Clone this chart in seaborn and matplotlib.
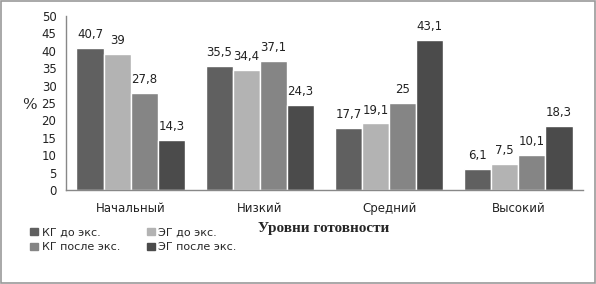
import matplotlib
matplotlib.use("Agg")
import matplotlib.pyplot as plt
import seaborn as sns
import pandas as pd
from matplotlib.patches import Rectangle

categories = ["Начальный", "Низкий", "Средний", "Высокий"]
series = ["КГ до экс.", "ЭГ до экс.", "КГ после экс.", "ЭГ после экс."]
kg_before = [40.7, 35.5, 17.7, 6.1]
eg_before = [39, 34.4, 19.1, 7.5]
kg_after = [27.8, 37.1, 25, 10.1]
eg_after = [14.3, 24.3, 43.1, 18.3]
colors = ["#606060", "#b3b3b3", "#858585", "#4b4b4b"]

values = [kg_before, eg_before, kg_after, eg_after]
rows = []
for s, vals in zip(series, values):
    for c, v in zip(categories, vals):
        rows.append({"cat": c, "series": s, "val": v})
df = pd.DataFrame(rows)

sns.set_style("white")
plt.rcParams["font.family"] = ["DejaVu Sans"]

fig = plt.figure(figsize=(5.96, 2.84), dpi=100)
ax = fig.add_axes([0.111, 0.331, 0.867, 0.613])
sns.barplot(data=df, x="cat", y="val", hue="series", hue_order=series,
            order=categories, palette=colors, width=0.84, saturation=1,
            ax=ax, legend=False, errorbar=None)

for cont in ax.containers:
    labels = [f"{v:g}".replace(".", ",") for v in cont.datavalues]
    ax.bar_label(cont, labels=labels, padding=5, fontsize=8.5, color="#222222")

ax.set_ylim(0, 50)
ax.set_yticks(range(0, 51, 5))
ax.set_xlim(-0.5, 3.5)
ax.tick_params(axis="both", length=0, labelsize=8.5, colors="#222222")
ax.tick_params(axis="x", pad=9)
ax.tick_params(axis="y", pad=7)
for sp in ["top", "right"]:
    ax.spines[sp].set_visible(False)
for sp in ["left", "bottom"]:
    ax.spines[sp].set_color("#888888")
    ax.spines[sp].set_linewidth(1)
ax.set_xlabel("")
ax.set_ylabel("%", rotation=0, fontsize=11, family="DejaVu Serif", labelpad=8)
ax.yaxis.set_label_coords(-0.072, 0.45)

fig.text(0.543, 0.197, "Уровни готовности", ha="center", va="center",
         fontsize=11, fontweight="bold", family="Liberation Serif")

handles = [Rectangle((0, 0), 1, 1, color=c) for c in colors]
order = [0, 2, 1, 3]
fig.legend([handles[i] for i in order], [series[i] for i in order],
           ncol=2, loc="upper left",
           bbox_to_anchor=(0.043, 0.215), frameon=False, fontsize=8,
           handlelength=0.7, handleheight=0.7, handletextpad=0.35,
           columnspacing=2.4, labelspacing=0.45, borderaxespad=0)

fig.patches.append(Rectangle((0.001, 0.002), 0.997, 0.995, transform=fig.transFigure,
                             fill=False, edgecolor="#999999", linewidth=1.2))
fig.savefig("out.png", dpi=100)
